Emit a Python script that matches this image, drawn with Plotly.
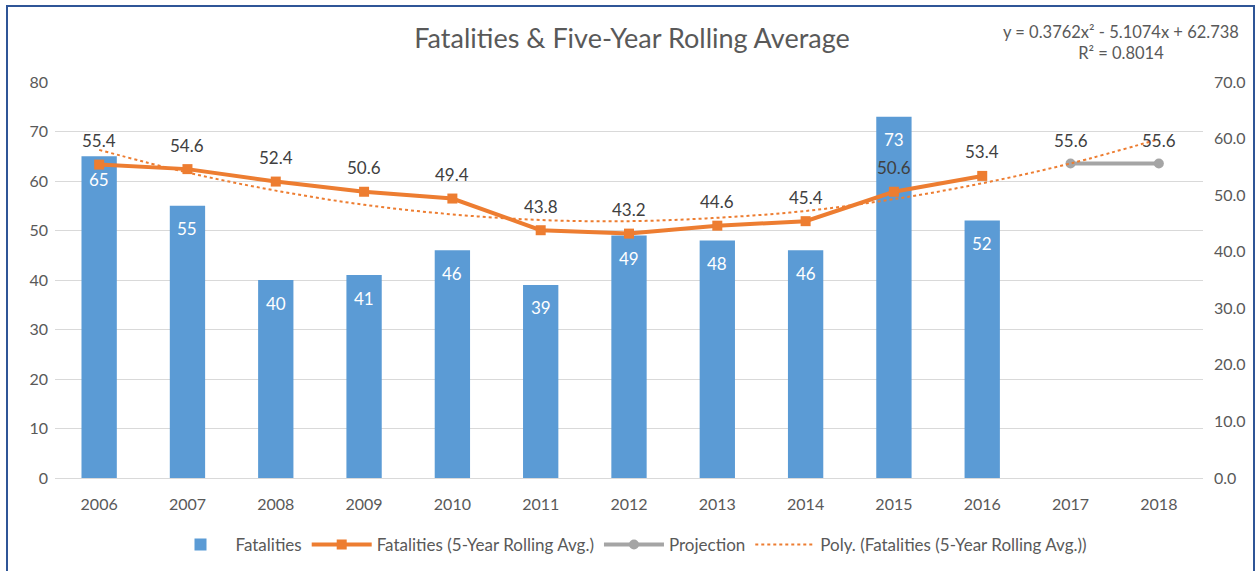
import plotly.graph_objects as go

years = ["2006", "2007", "2008", "2009", "2010", "2011", "2012",
         "2013", "2014", "2015", "2016", "2017", "2018"]
fatalities = [65, 55, 40, 41, 46, 39, 49, 48, 46, 73, 52]
rolling_avg = [55.4, 54.6, 52.4, 50.6, 49.4, 43.8, 43.2, 44.6, 45.4, 50.6, 53.4]
projection_years = ["2017", "2018"]
projection = [55.6, 55.6]
# trendline values as drawn (from the equation printed on the chart)
poly_trend = [58.0, 54.0, 50.8, 48.3, 46.6, 45.6, 45.4, 46.0, 47.2, 49.3, 52.1, 55.6, 59.9]

FONT = "Lato, 'Open Sans', sans-serif"
GREY_TXT = "#595959"
LABEL_TXT = "#404040"
BLUE = "#5B9BD5"
ORANGE = "#ED7D31"
GREY = "#A5A5A5"

fig = go.Figure()

fig.add_trace(go.Bar(
    x=years[:len(fatalities)], y=fatalities, name="Fatalities",
    marker=dict(color=BLUE, line=dict(width=0)),
))

fig.add_trace(go.Scatter(
    x=years[:len(rolling_avg)], y=rolling_avg, yaxis="y2",
    name="Fatalities (5-Year Rolling Avg.)", mode="lines+markers",
    line=dict(color=ORANGE, width=4),
    marker=dict(symbol="square", size=10, color=ORANGE),
))

fig.add_trace(go.Scatter(
    x=projection_years, y=projection, yaxis="y2",
    name="Projection", mode="lines+markers",
    line=dict(color=GREY, width=4),
    marker=dict(symbol="circle", size=10, color=GREY),
))

fig.add_trace(go.Scatter(
    x=years, y=poly_trend, yaxis="y2",
    name="Poly. (Fatalities (5-Year Rolling Avg.))", mode="lines",
    line=dict(color=ORANGE, width=2, dash="dot", shape="spline"),
))

# data labels (x given as category index)
labels = []
for i, v in enumerate(fatalities):
    labels.append(dict(x=i, y=v, xref="x", yref="y", text=str(v),
                       showarrow=False, yshift=-23, yanchor="middle",
                       font=dict(color="white", size=17, family=FONT)))
for i, v in enumerate(rolling_avg):
    labels.append(dict(x=i, y=v, xref="x", yref="y2", text=f"{v:.1f}",
                       showarrow=False, yshift=24, yanchor="middle",
                       font=dict(color=LABEL_TXT, size=17, family=FONT)))
for yr, v in zip(projection_years, projection):
    labels.append(dict(x=years.index(yr), y=v, xref="x", yref="y2", text=f"{v:.1f}",
                       showarrow=False, yshift=23, yanchor="middle",
                       font=dict(color=LABEL_TXT, size=17, family=FONT)))

labels.append(dict(
    text="y = 0.3762x² - 5.1074x + 62.738<br>R² = 0.8014",
    xref="paper", yref="paper", x=(1241 - 55) / 1148, y=(478 - 42) / 396,
    xanchor="right", yanchor="middle", align="center", showarrow=False,
    font=dict(size=16.5, color=GREY_TXT, family=FONT),
))

fig.update_layout(
    width=1260, height=571,
    margin=dict(l=55, r=57, t=82, b=93, autoexpand=False),
    paper_bgcolor="white", plot_bgcolor="white",
    font=dict(family=FONT, color=GREY_TXT, size=16),
    bargap=0.6,
    showlegend=True,
    title=dict(text="Fatalities & Five-Year Rolling Average",
               x=632 / 1260, xanchor="center", y=1 - 39 / 571, yanchor="middle",
               yref="container", font=dict(size=27, color=GREY_TXT, family=FONT)),
    xaxis=dict(type="category", categoryorder="array", categoryarray=years,
               range=[-0.5, len(years) - 0.5],
               showgrid=False, showline=True, linecolor="#D9D9D9",
               ticks="", ticklabelstandoff=12,
               tickfont=dict(size=16, color=GREY_TXT)),
    yaxis=dict(range=[0, 80], dtick=10, showgrid=True, gridcolor="#D9D9D9",
               zeroline=False, showline=False, ticks="", ticklabelstandoff=6,
               tickfont=dict(size=16, color=GREY_TXT)),
    yaxis2=dict(range=[0, 70], dtick=10, overlaying="y", side="right",
                showgrid=False, zeroline=False, showline=False,
                ticks="", ticklabelstandoff=10,
                tickformat=".1f", tickfont=dict(size=16, color=GREY_TXT)),
    legend=dict(orientation="h", x=0.5, xanchor="center",
                y=(478 - 545) / 396, yanchor="middle", itemwidth=60,
                font=dict(size=17, color=GREY_TXT), traceorder="normal"),
    annotations=labels,
    shapes=[dict(
        type="rect", xref="paper", yref="paper",
        x0=(7 - 55) / 1148, x1=(1254 - 55) / 1148,
        y0=-0.3, y1=(478 - 6) / 396,
        line=dict(color="#2F5597", width=2), fillcolor="rgba(0,0,0,0)",
        layer="below",
    )],
)

fig.write_html("out.html", config={"displayModeBar": False},
               post_script="document.body.style.margin='0';")
